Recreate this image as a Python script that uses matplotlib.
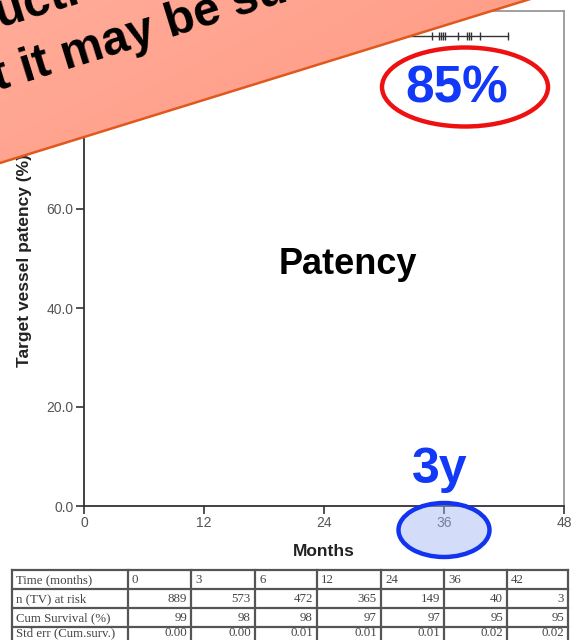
import numpy as np
import matplotlib
matplotlib.use("Agg")
import matplotlib.pyplot as plt
from matplotlib.patches import Polygon, Ellipse

# Kaplan-Meier estimate of target vessel patency
km_months = [0, 0.5, 3, 10, 30, 42.4]
km_patency = [100, 99, 98, 97, 95, 95]
censor_months = [34.8, 35.5, 35.7, 35.9, 36.1, 37.4, 38.3, 38.5, 38.7, 39.6, 42.4]
censor_patency = [95] * len(censor_months)

x_ticks = [0, 12, 24, 36, 48]
y_ticks = [0, 20, 40, 60, 80, 100]

# Life table below the chart
table_times = ["0", "3", "6", "12", "24", "36", "42"]
at_risk = ["889", "573", "472", "365", "149", "40", "3"]
cum_survival = ["99", "98", "98", "97", "97", "95", "95"]
std_err = ["0.00", "0.00", "0.01", "0.01", "0.01", "0.02", "0.02"]
row_labels = ["Time (months)", "n (TV) at risk", "Cum Survival (%)", "Std err (Cum.surv.)"]

W, H = 572, 640
fig = plt.figure(figsize=(W / 100, H / 100), dpi=100)
plt.rcParams["font.family"] = ["Liberation Sans", "DejaVu Sans"]

# ---- survival plot ----
ax = fig.add_axes([84 / W, (H - 506) / H, 480 / W, 495 / H])
ax.step(km_months, km_patency, where="post", color="#333333", lw=1.0)
ax.plot(censor_months, censor_patency, ls="none", marker="|", ms=6, mew=1.0, color="#333333")
ax.set_xlim(0, 48)
ax.set_ylim(0, 100)
ax.set_xticks(x_ticks)
ax.set_yticks(y_ticks)
ax.set_xticklabels([str(t) for t in x_ticks])
ax.set_yticklabels([f"{t:.1f}" for t in y_ticks])
ax.tick_params(direction="out", length=6, width=1.2, color="#333333",
               labelcolor="#555555", labelsize=10, pad=1.5)
for s in ("left", "bottom"):
    ax.spines[s].set_color("#333333")
    ax.spines[s].set_linewidth(1.3)
for s in ("top", "right"):
    ax.spines[s].set_color("#999999")
    ax.spines[s].set_linewidth(1.3)

# ---- annotations in pixel coordinates ----
ov = fig.add_axes([0, 0, 1, 1], zorder=10)
ov.patch.set_alpha(0)
ov.axis("off")

fig.text(24 / W, 1 - 367 / H, "Target vessel patency (%)", rotation=90,
         rotation_mode="anchor", ha="left", va="center", fontsize=12.5,
         fontweight="bold", color="#222222")
ov.text(324, 551, "Months", ha="center", va="center", fontsize=12.5,
        fontweight="bold", color="#222222")

ov.text(348, 265, "Patency", ha="center", va="center", fontsize=26,
        fontweight="bold", color="black")

ov.add_patch(Ellipse((465, 87), 166, 79, fill=False, ec="#EE1111", lw=3.2))
ov.text(457, 89, "85%", ha="center", va="center", fontsize=37,
        fontweight="bold", color="#1238F8")

ov.add_patch(Ellipse((444, 530), 91, 54, fc=(0.62, 0.71, 0.96, 0.45),
                     ec="#1233F0", lw=3.2))
ov.text(440, 483, "3y", ha="center", va="baseline", fontsize=36,
        fontweight="bold", color="#1238F8")

# ---- table ----
col_x = [12, 128, 191, 255, 317, 381, 444, 507, 568]
row_y = [570, 589, 608, 627, 646]
text_y = [580, 599, 618, 633.5]
for y in row_y:
    ov.plot([col_x[0], col_x[-1]], [y, y], color="#555555", lw=1.6)
for x in col_x:
    ov.plot([x, x], [row_y[0], row_y[-1]], color="#555555", lw=1.6)

rows = [table_times, at_risk, cum_survival, std_err]
for r, (label, vals) in enumerate(zip(row_labels, rows)):
    yc = text_y[r]
    ov.text(col_x[0] + 4, yc, label, ha="left", va="center", fontsize=9.3,
            family="Liberation Serif", color="#444444")
    for c, v in enumerate(vals):
        if r == 0:
            ov.text(col_x[c + 1] + 4, yc, v, ha="left", va="center", fontsize=9.3,
                    family="Liberation Serif", color="#444444")
        else:
            ov.text(col_x[c + 2] - 4, yc, v, ha="right", va="center", fontsize=9.3,
                    family="Liberation Serif", color="#444444")

# ---- slanted banner across the top-left corner ----
slope = 163 / 527
bx0, bx1 = -20, 620
band = Polygon([(bx0, 163 - slope * bx0), (bx1, 163 - slope * bx1),
                (bx1, -60), (bx0, -60)], closed=True, fc="none", ec="none")
ov.add_patch(band)
gy, gx = np.mgrid[0:1:200j, 0:1:300j]
t = np.clip(0.55 * gx + 0.45 * gy, 0, 1)[..., None]
c0 = np.array([255, 176, 158]) / 255
c1 = np.array([255, 146, 122]) / 255
grad = c0 * (1 - t) + c1 * t
im = ov.imshow(grad, extent=(bx0, bx1, 200, -60), origin="upper", aspect="auto",
               interpolation="bilinear", zorder=20)
im.set_clip_path(band)
ov.plot([bx0, bx1], [163 - slope * bx0, 163 - slope * bx1], color="#E0581C",
        lw=1.8, zorder=21)

ang = np.degrees(np.arctan(slope))
ov.text(-129, 67, "Introduction", rotation=ang, rotation_mode="anchor",
        ha="left", va="baseline", fontsize=34.5, fontweight="bold",
        color="black", zorder=22)
ov.text(-59, 108, "but it may be suboptimal", rotation=ang, rotation_mode="anchor",
        ha="left", va="baseline", fontsize=34.5, fontweight="bold",
        color="black", zorder=22)

ov.set_xlim(0, W)
ov.set_ylim(H, 0)

fig.savefig("out.png", dpi=100)
